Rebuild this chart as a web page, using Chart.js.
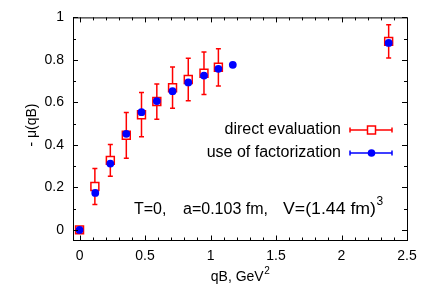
<!DOCTYPE html>
<html>
<head>
<meta charset="utf-8">
<script src="https://cdn.jsdelivr.net/npm/chart.js@4.4.0/dist/chart.umd.min.js"></script>
<style>
  body { margin: 0; background: #fff; }
  #wrap { width: 429px; height: 301px; }
</style>
</head>
<body>
<div id="wrap"><canvas id="grafica" width="429" height="301"></canvas></div>
<script>
// datos
var xDirect = [0, 0.117, 0.235, 0.357, 0.473, 0.59, 0.71, 0.83, 0.95, 1.06, 2.36];
var yDirect = [0.0, 0.204, 0.327, 0.445, 0.542, 0.604, 0.669, 0.708, 0.737, 0.765, 0.887];
var errDirect = [0.01, 0.085, 0.075, 0.108, 0.104, 0.083, 0.097, 0.1, 0.1, 0.088, 0.078];

var xFact = [0, 0.12, 0.235, 0.357, 0.473, 0.59, 0.71, 0.83, 0.95, 1.06, 1.17, 2.36];
var yFact = [0.0, 0.174, 0.312, 0.452, 0.554, 0.606, 0.653, 0.694, 0.726, 0.758, 0.777, 0.88];

var xTicks = [0, 0.5, 1, 1.5, 2, 2.5];
var yTicks = [0, 0.2, 0.4, 0.6, 0.8, 1];
var xMinor = [0, 0.1, 0.2, 0.3, 0.4, 0.5, 0.6, 0.7, 0.8, 0.9, 1, 1.1, 1.2, 1.3, 1.4, 1.5, 1.6, 1.7, 1.8, 1.9, 2, 2.1, 2.2, 2.3, 2.4, 2.5];
var yMinor = [0, 0.1, 0.2, 0.3, 0.4, 0.5, 0.6, 0.7, 0.8, 0.9, 1];

var fuente = '"Liberation Sans", Arial, Helvetica, sans-serif';
var rojo = '#ff0000';
var azul = '#0000ff';

function puntos(xs, ys) {
  return xs.map(function (x, i) { return { x: x, y: ys[i] }; });
}

// barras de error, marcas hacia dentro, leyenda y textos
var extras = {
  id: 'extras',
  beforeDatasetsDraw: function (chart) {
    var ctx = chart.ctx, xs = chart.scales.x, ys = chart.scales.y;
    ctx.save();
    ctx.strokeStyle = rojo;
    ctx.lineWidth = 1.5;
    for (var i = 0; i < xDirect.length; i++) {
      var px = xs.getPixelForValue(xDirect[i]);
      var top = ys.getPixelForValue(yDirect[i] + errDirect[i]);
      var bot = ys.getPixelForValue(yDirect[i] - errDirect[i]);
      ctx.beginPath();
      ctx.moveTo(px, top); ctx.lineTo(px, bot);
      ctx.moveTo(px - 2.5, top); ctx.lineTo(px + 2.5, top);
      ctx.moveTo(px - 2.5, bot); ctx.lineTo(px + 2.5, bot);
      ctx.stroke();
    }
    ctx.restore();
  },
  afterDraw: function (chart) {
    var ctx = chart.ctx, a = chart.chartArea, xs = chart.scales.x, ys = chart.scales.y;
    ctx.save();
    // marco superior y derecho
    ctx.strokeStyle = '#000';
    ctx.lineWidth = 1;
    ctx.beginPath();
    ctx.moveTo(a.left, a.top + 0.5); ctx.lineTo(a.right + 0.5, a.top + 0.5);
    ctx.lineTo(a.right + 0.5, a.bottom);
    ctx.stroke();
    // marcas
    ctx.beginPath();
    xMinor.forEach(function (v) {
      var p = Math.round(xs.getPixelForValue(v)) + 0.5;
      var l = (Math.abs(v * 2 - Math.round(v * 2)) < 1e-6) ? 5 : 3;
      ctx.moveTo(p, a.bottom); ctx.lineTo(p, a.bottom - l);
      ctx.moveTo(p, a.top); ctx.lineTo(p, a.top + l);
    });
    yMinor.forEach(function (v) {
      var p = Math.round(ys.getPixelForValue(v)) + 0.5;
      var l = (Math.abs(v * 5 - Math.round(v * 5)) < 1e-6) ? 5 : 3;
      ctx.moveTo(a.left, p); ctx.lineTo(a.left + l, p);
      ctx.moveTo(a.right, p); ctx.lineTo(a.right - l, p);
    });
    ctx.stroke();

    // leyenda
    ctx.fillStyle = '#000';
    ctx.font = '16px ' + fuente;
    ctx.textAlign = 'right';
    ctx.textBaseline = 'middle';
    ctx.fillText('direct evaluation', 341, 130);
    ctx.fillText('use of factorization', 341, 153);
    [[rojo, 130], [azul, 153]].forEach(function (f, k) {
      ctx.strokeStyle = f[0];
      ctx.lineWidth = 1.5;
      ctx.beginPath();
      ctx.moveTo(350, f[1]); ctx.lineTo(392, f[1]);
      ctx.moveTo(350, f[1] - 2.5); ctx.lineTo(350, f[1] + 2.5);
      ctx.moveTo(392, f[1] - 2.5); ctx.lineTo(392, f[1] + 2.5);
      ctx.stroke();
      if (k === 0) {
        ctx.fillStyle = '#fff';
        ctx.fillRect(367.5, f[1] - 4, 8, 8);
        ctx.strokeRect(367.5, f[1] - 4, 8, 8);
      } else {
        ctx.fillStyle = azul;
        ctx.beginPath();
        ctx.arc(371.5, f[1], 3.8, 0, Math.PI * 2);
        ctx.fill();
      }
    });

    // texto de parametros
    ctx.fillStyle = '#000';
    ctx.textAlign = 'left';
    ctx.textBaseline = 'alphabetic';
    ctx.font = '16px ' + fuente;
    ctx.fillText('T=0,', 134, 214);
    ctx.fillText('a=0.103 fm,', 183, 214);
    var w = ctx.measureText('V=(1.44 fm)').width;
    var k = 93 / w;
    ctx.save();
    ctx.translate(283, 214);
    ctx.scale(k, 1);
    ctx.fillText('V=(1.44 fm)', 0, 0);
    ctx.restore();
    ctx.font = '12px ' + fuente;
    ctx.fillText('3', 283 + 93 + 0.5, 205);

    // titulos de ejes
    ctx.font = '14px ' + fuente;
    var t = 'qB, GeV';
    var tw = ctx.measureText(t).width;
    ctx.font = '10px ' + fuente;
    var sw = ctx.measureText('2').width;
    var x0 = 240 - (tw + sw) / 2;
    ctx.font = '14px ' + fuente;
    ctx.textBaseline = 'middle';
    ctx.fillText(t, x0, 277);
    ctx.font = '10px ' + fuente;
    ctx.fillText('2', x0 + tw + 0.5, 271);

    ctx.translate(32, 125);
    ctx.rotate(-Math.PI / 2);
    ctx.font = '14px ' + fuente;
    ctx.textAlign = 'center';
    ctx.fillText('- \u03bc(qB)', 0, 0);
    ctx.restore();
  }
};

var grafica = new Chart(document.getElementById('grafica').getContext('2d'), {
  type: 'scatter',
  data: {
    datasets: [{
      label: 'use of factorization',
      data: puntos(xFact, yFact),
      pointStyle: 'circle',
      pointRadius: 3.9,
      pointBackgroundColor: azul,
      pointBorderColor: azul,
      pointBorderWidth: 0,
      order: 0
    }, {
      label: 'direct evaluation',
      data: puntos(xDirect, yDirect),
      pointStyle: 'rect',
      pointRadius: 5.6,
      pointBackgroundColor: '#fff',
      pointBorderColor: rojo,
      pointBorderWidth: 1.5,
      order: 1
    }]
  },
  options: {
    responsive: false,
    animation: false,
    layout: { padding: { top: 17, right: 22, left: 0, bottom: 0 } },
    plugins: {
      legend: { display: false },
      tooltip: { enabled: false }
    },
    scales: {
      x: {
        type: 'linear',
        min: -0.05,
        max: 2.5,
        grid: { display: false, drawTicks: false, tickLength: 0 },
        border: { display: true, color: '#000', width: 1 },
        afterBuildTicks: function (s) { s.ticks = xTicks.map(function (v) { return { value: v }; }); },
        afterFit: function (s) { s.height = 60.5; },
        ticks: {
          padding: 7,
          color: '#000',
          maxRotation: 0,
          font: { size: 14, family: fuente },
          callback: function (v) { return String(+v.toFixed(1)); }
        }
      },
      y: {
        min: -0.05,
        max: 1,
        grid: { display: false, drawTicks: false, tickLength: 0 },
        border: { display: true, color: '#000', width: 1 },
        afterBuildTicks: function (s) { s.ticks = yTicks.map(function (v) { return { value: v }; }); },
        afterFit: function (s) { s.width = 73; },
        ticks: {
          padding: 9,
          color: '#000',
          font: { size: 14, family: fuente },
          callback: function (v) { return String(+v.toFixed(1)); }
        }
      }
    }
  },
  plugins: [extras]
});
</script>
</body>
</html>
